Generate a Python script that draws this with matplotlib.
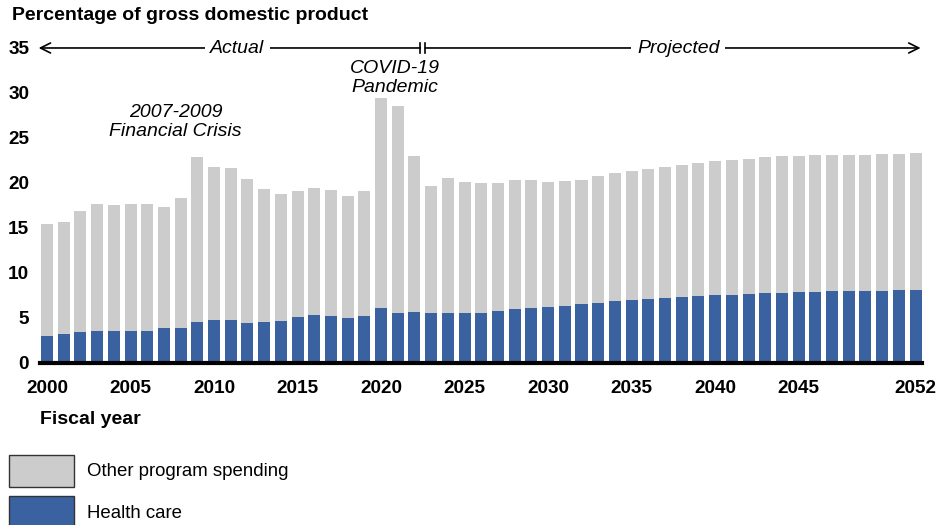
import matplotlib.pyplot as plt
from matplotlib.patches import Rectangle
import numpy as np

plt.rcParams['font.family'] = ['Liberation Sans', 'DejaVu Sans']

years = list(range(2000, 2053))

# total program spending (% of GDP)
total = [15.4, 15.65, 16.9, 17.7, 17.6, 17.7, 17.7, 17.3, 18.3, 22.9,
         21.8, 21.7, 20.4, 19.3, 18.8, 19.1, 19.4, 19.2, 18.55, 19.1,
         29.4, 28.5, 23.0, 19.7, 20.5, 20.1, 20.0, 20.0, 20.3, 20.3,
         20.15, 20.2, 20.3, 20.8, 21.1, 21.3, 21.6, 21.8, 22.0, 22.2,
         22.4, 22.6, 22.7, 22.85, 23.0, 23.05, 23.1, 23.1, 23.15, 23.15,
         23.2, 23.2, 23.3]

health = [3.0, 3.2, 3.4, 3.5, 3.6, 3.6, 3.6, 3.9, 3.9, 4.6,
          4.8, 4.8, 4.4, 4.5, 4.7, 5.1, 5.35, 5.2, 5.0, 5.2,
          6.1, 5.6, 5.65, 5.5, 5.5, 5.5, 5.6, 5.75, 5.95, 6.1,
          6.2, 6.3, 6.5, 6.65, 6.9, 7.0, 7.1, 7.25, 7.3, 7.4,
          7.5, 7.55, 7.7, 7.75, 7.8, 7.85, 7.9, 7.95, 8.0, 8.0,
          8.05, 8.1, 8.15]

other = [t - h for t, h in zip(total, health)]

xtick_years = [2000, 2005, 2010, 2015, 2020, 2025, 2030, 2035, 2040, 2045, 2052]
ytick_vals = [0, 5, 10, 15, 20, 25, 30, 35]

blue = '#3a62a0'
grey = '#cccccc'

fig = plt.figure(figsize=(9.49, 5.25), dpi=100)
ax = fig.add_axes([0.0425, 0.3086, 0.9293, 0.6])

ax.bar(years, health, width=0.72, color=blue)
ax.bar(years, other, bottom=health, width=0.72, color=grey)

ax.set_xlim(1999.6, 2052.4)
ax.set_ylim(0, 35)
for s in ax.spines.values():
    s.set_visible(False)
ax.axhline(0, color='black', lw=3, clip_on=False, zorder=5)

ax.set_xticks(xtick_years)
ax.set_xticklabels([str(y) for y in xtick_years], fontsize=13.7, fontweight='bold')
ax.set_yticks(ytick_vals)
ax.set_yticklabels([str(v) for v in ytick_vals], fontsize=13.7, fontweight='bold')
ax.tick_params(axis='x', length=0, pad=12)
ax.tick_params(axis='y', length=0, pad=8)

# actual / projected arrows
arrow_kw = dict(arrowstyle='->', color='black', lw=1.2, mutation_scale=18,
                shrinkA=0, shrinkB=0)
ax.annotate('', xy=(1999.5, 35), xytext=(2022.35, 35), arrowprops=arrow_kw,
            annotation_clip=False)
ax.annotate('', xy=(2052.3, 35), xytext=(2022.65, 35), arrowprops=arrow_kw,
            annotation_clip=False)
for xs in (2022.35, 2022.65):
    ax.plot([xs, xs], [34.4, 35.6], color='black', lw=1.2, clip_on=False)
ax.text(2011.4, 34.9, 'Actual', ha='center', va='center', fontsize=14,
        style='italic', bbox=dict(facecolor='white', edgecolor='none', pad=4))
ax.text(2037.8, 34.9, 'Projected', ha='center', va='center', fontsize=14,
        style='italic', bbox=dict(facecolor='white', edgecolor='none', pad=4))

ax.text(2007.7, 26.8, '2007-2009\nFinancial Crisis', ha='center', va='center',
        fontsize=14, style='italic', linespacing=1.15)
ax.text(2020.85, 31.65, 'COVID-19\nPandemic', ha='center', va='center',
        fontsize=14, style='italic', linespacing=1.15)

fig.text(12 / 949, 1 - 15 / 525, 'Percentage of gross domestic product',
         fontsize=14, fontweight='bold', va='center', ha='left')
fig.text(40 / 949, 105 / 525, 'Fiscal year', fontsize=14, fontweight='bold',
         va='center', ha='left')

# legend
fig.patches.append(Rectangle((9 / 949, 38 / 525), 65 / 949, 32 / 525,
                             transform=fig.transFigure, facecolor=grey,
                             edgecolor='#333333', lw=1))
fig.patches.append(Rectangle((9 / 949, -3 / 525), 65 / 949, 32 / 525,
                             transform=fig.transFigure, facecolor=blue,
                             edgecolor='#333333', lw=1))
fig.text(87 / 949, 54 / 525, 'Other program spending', fontsize=13.4, va='center')
fig.text(87 / 949, 12 / 525, 'Health care', fontsize=13.4, va='center')

fig.savefig('out.png', dpi=100)
